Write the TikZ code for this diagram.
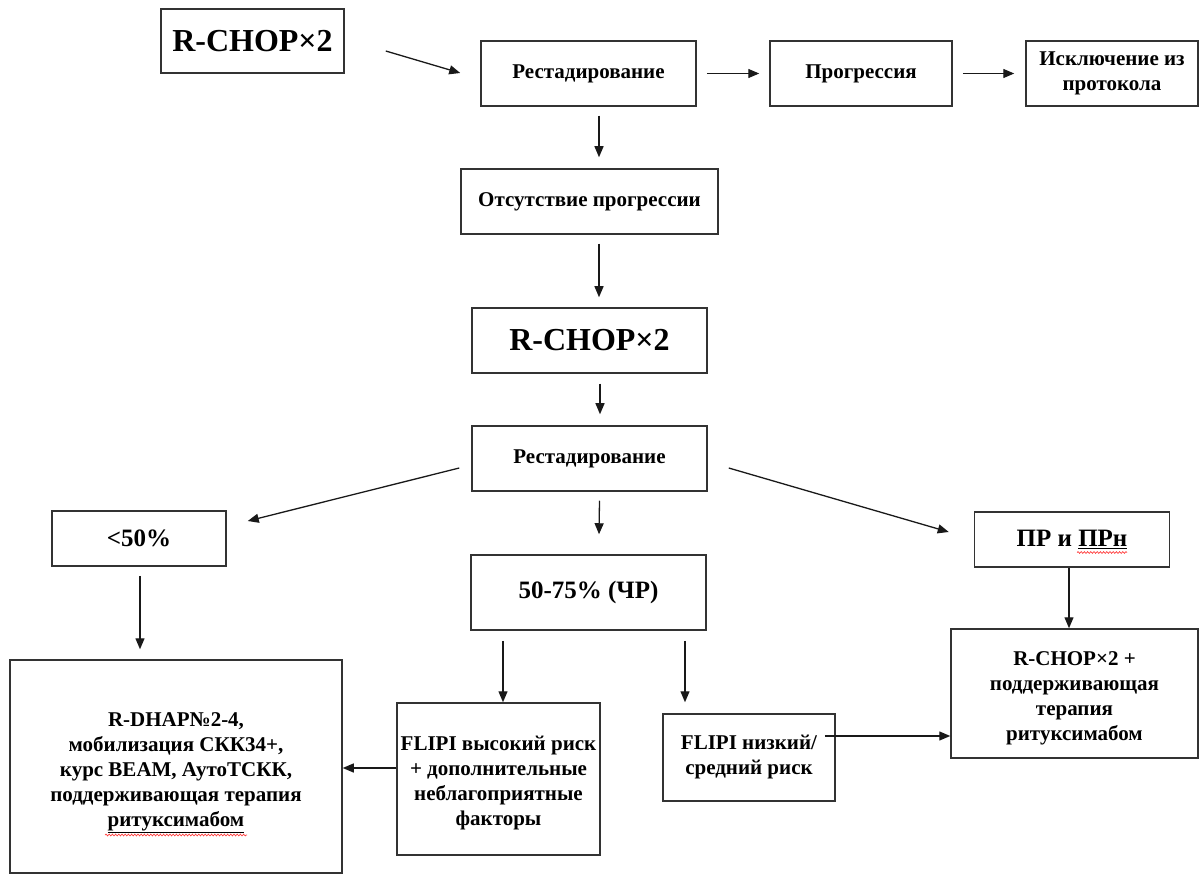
\documentclass[tikz,border=0pt]{standalone}
\usepackage{fontspec}
\setmainfont{Liberation Serif}
\usetikzlibrary{arrows.meta,decorations.pathmorphing}
\newcommand\fsm{\fontsize{21}{25}\selectfont\bfseries}
\newcommand\fmd{\fontsize{25}{29}\selectfont\bfseries}
\newcommand\fbg{\fontsize{32}{36}\selectfont\bfseries}
\tikzset{
  box/.style={draw=black!80, line width=1.5pt, inner sep=2pt, align=center, font=\fsm},
  arr/.style={-{Triangle[length=11pt,width=9pt]}, line width=1.3pt, draw=black!90},
  wavy/.style={draw=red!75, line width=0.7pt, decorate, decoration={snake, amplitude=0.9pt, segment length=3.2pt}},
}
\begin{document}
\begin{tikzpicture}[x=1pt,y=-1pt]
\useasboundingbox (0,0) rectangle (1203,874);
% top row
\node[box, font=\fbg, minimum width=183pt, minimum height=64pt] (A) at (252.5,41) {R-CHOP×2};
\node[box, minimum width=215pt, minimum height=65pt] (B) at (588.5,73.5) {Рестадирование};
\node[box, minimum width=182pt, minimum height=65pt] (C) at (861,73.5) {Прогрессия};
\node[box, minimum width=172pt, minimum height=65pt] (D) at (1112,73.5) {Исключение из\\протокола};
% centre column
\node[box, minimum width=257pt, minimum height=65pt] (E) at (589.5,201.5) {Отсутствие прогрессии};
\node[box, font=\fbg, minimum width=235pt, minimum height=65pt] (F) at (589.5,340.5) {R-CHOP×2};
\node[box, minimum width=235pt, minimum height=65pt] (G) at (589.5,458.5) {Рестадирование};
% second level
\node[box, font=\fmd, minimum width=174pt, minimum height=55pt] (H) at (139,538.5) {<50\%};
\node[box, font=\fmd, minimum width=235pt, minimum height=75pt] (I) at (588.5,592.5) {50-75\% (ЧР)};
\node[box, font=\fmd, minimum width=195pt, minimum height=55pt] (J) at (1072,539.5) {ПР и \underline{ПРн}};
% bottom level
\node[box, minimum width=332pt, minimum height=213pt] (K) at (176,766.5) {\rule{0pt}{27pt}R-DHAP№2-4,\\мобилизация СКК34+,\\курс BEAM, АутоТСКК,\\поддерживающая терапия\\\underline{ритуксимабом}};
\node[box, minimum width=203pt, minimum height=152pt] (L) at (498.5,779) {\rule{0pt}{23pt}FLIPI высокий риск\\+ дополнительные\\неблагоприятные\\факторы};
\node[box, minimum width=172pt, minimum height=87pt] (M) at (749,757.5) {FLIPI низкий/\\средний риск};
\node[box, minimum width=247pt, minimum height=129pt] (N) at (1074.5,693.5) {\rule{0pt}{23pt}R-CHOP×2 +\\поддерживающая\\терапия\\ритуксимабом};
% spell-check marks
\draw[wavy] ([xshift=5pt,yshift=-13pt]J.center) -- ([xshift=55pt,yshift=-13pt]J.center);
\draw[wavy] ([xshift=-71pt,yshift=-68.5pt]K.center) -- ([xshift=71pt,yshift=-68.5pt]K.center);
% connectors
\draw[arr] ([xshift=41pt,yshift=-10pt]A.east) -- ([xshift=-20pt,yshift=0.5pt]B.west);
\draw[arr] ([xshift=10pt]B.east) -- ([xshift=-10pt]C.west);
\draw[arr] ([xshift=10pt]C.east) -- ([xshift=-11pt]D.west);
\draw[arr] ([xshift=10.5pt,yshift=-9pt]B.south) -- ([xshift=9.5pt,yshift=11pt]E.north);
\draw[arr] ([xshift=9.5pt,yshift=-9pt]E.south) -- ([xshift=9.5pt,yshift=10pt]F.north);
\draw[arr] ([xshift=10.5pt,yshift=-10pt]F.south) -- ([xshift=10.5pt,yshift=11pt]G.north);
\draw[arr] ([xshift=10pt,yshift=-9pt]G.south) -- ([xshift=10.5pt,yshift=20pt]I.north);
\draw[arr] ([xshift=-12pt,yshift=-9.5pt]G.west) -- ([xshift=21pt,yshift=17.5pt]H.east);
\draw[arr] ([xshift=21pt,yshift=-9.5pt]G.east) -- ([xshift=-25pt,yshift=7.5pt]J.west);
\draw[arr] ([xshift=1pt,yshift=-9pt]H.south) -- ([xshift=-36pt,yshift=10pt]K.north);
\draw[arr] ([xshift=-85.5pt,yshift=-10pt]I.south) -- ([xshift=4.5pt]L.north);
\draw[arr] ([xshift=96.5pt,yshift=-10pt]I.south) -- ([xshift=-64pt,yshift=11pt]M.north);
\draw[arr] ([xshift=-3pt]J.south) -- ([xshift=-5.5pt]N.north);
\draw[arr] ([yshift=11pt]L.west) -- ([yshift=-1.5pt]K.east);
\draw[arr] ([xshift=-11pt,yshift=21.5pt]M.east) -- ([yshift=-42.5pt]N.west);
\end{tikzpicture}
\end{document}
